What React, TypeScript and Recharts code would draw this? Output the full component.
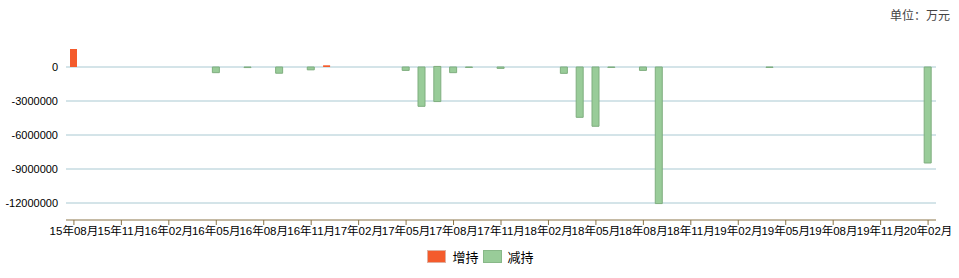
import React from "react"
import {
  BarChart,
  Bar,
  XAxis,
  YAxis,
  CartesianGrid,
  Legend,
} from "recharts"

// monthly categories, 15年08月 .. 20年02月
const months = [
  "15年08月", "15年09月", "15年10月", "15年11月", "15年12月",
  "16年01月", "16年02月", "16年03月", "16年04月", "16年05月", "16年06月",
  "16年07月", "16年08月", "16年09月", "16年10月", "16年11月", "16年12月",
  "17年01月", "17年02月", "17年03月", "17年04月", "17年05月", "17年06月",
  "17年07月", "17年08月", "17年09月", "17年10月", "17年11月", "17年12月",
  "18年01月", "18年02月", "18年03月", "18年04月", "18年05月", "18年06月",
  "18年07月", "18年08月", "18年09月", "18年10月", "18年11月", "18年12月",
  "19年01月", "19年02月", "19年03月", "19年04月", "19年05月", "19年06月",
  "19年07月", "19年08月", "19年09月", "19年10月", "19年11月", "19年12月",
  "20年01月", "20年02月",
]

// 增持 (万元)
const increase = [
  1590000, 0, 0, 0, 0,
  0, 0, 0, 0, 0, 0,
  0, 0, 0, 0, 0, 150000,
  0, 0, 0, 0, 0, 0,
  50000, 0, 0, 0, 0, 0,
  0, 0, 0, 0, 0, 0,
  0, 0, 0, 0, 0, 0,
  0, 0, 0, 0, 0, 0,
  0, 0, 0, 0, 0, 0,
  0, 0,
]

// 减持 (万元)
const decrease = [
  0, 0, 0, 0, 0,
  0, 0, 0, 0, -500000, 0,
  -50000, 0, -550000, 0, -250000, 0,
  0, 0, 0, 0, -300000, -3470000,
  -3100000, -500000, -40000, 0, -120000, 0,
  0, 0, -560000, -4440000, -5230000, -40000,
  0, -300000, -12050000, 0, 0, 0,
  0, 0, 0, -40000, 0, 0,
  0, 0, 0, 0, 0, 0,
  0, -8470000,
]

const yTicks = [-12000000, -9000000, -6000000, -3000000, 0]

const data = months.map((m, i) => ({
  name: m,
  inc: increase[i],
  dec: decrease[i],
}))

const RED = "#f45b2c"
const GREEN = "#99cc99"
const FONT = "'Liberation Sans', 'Noto Sans CJK SC', sans-serif"

function LegendBox() {
  const item = (color: string, border: string, label: string) => (
    <span style={{ display: "inline-flex", alignItems: "center", marginRight: 4 }}>
      <span
        style={{
          display: "inline-block",
          width: 17,
          height: 11,
          background: color,
          border: `1px solid ${border}`,
          marginRight: 6,
        }}
      />
      <span style={{ fontSize: 13, color: "#000" }}>{label}</span>
    </span>
  )
  return (
    <div style={{ display: "flex", justifyContent: "center", fontFamily: FONT, paddingLeft: 6 }}>
      {item(RED, "#e0b0a0", "增持")}
      {item(GREEN, "#88b888", "减持")}
    </div>
  )
}

export default function App() {
  return (
    <div style={{ position: "absolute", left: 0, top: 0, width: 959, height: 278, background: "#fff" }}>
      <div
        style={{
          position: "absolute",
          right: 9,
          top: 6,
          fontSize: 12,
          color: "#444",
          fontFamily: "'Noto Sans CJK SC', sans-serif",
        }}
      >
        单位：万元
      </div>
      <BarChart
        width={959}
        height={278}
        data={data}
        margin={{ top: 33, right: 23, bottom: 28, left: 0 }}
        barSize={7}
      >
        <CartesianGrid
          horizontal
          vertical={false}
          stroke="#a9c9d2"
          horizontalValues={yTicks}
        />
        <XAxis
          dataKey="name"
          interval={2}
          height={30}
          tickSize={5}
          axisLine={{ stroke: "#8a7448" }}
          tickLine={{ stroke: "#8a7448" }}
          tick={{ fontSize: 11.5, fill: "#000", fontFamily: FONT }}
        />
        <YAxis
          width={66}
          domain={[-13500000, 3000000]}
          ticks={yTicks}
          axisLine={false}
          tickLine={false}
          tick={{ fontSize: 11, fill: "#000", fontFamily: FONT }}
        />
        <Legend
          layout="horizontal"
          verticalAlign="middle"
          align="center"
          wrapperStyle={{ top: 247, left: 0, width: 959 }}
          content={() => <LegendBox />}
        />
        <Bar dataKey="inc" name="增持" stackId="a" fill={RED} isAnimationActive={false} />
        <Bar
          dataKey="dec"
          name="减持"
          stackId="a"
          fill={GREEN}
          stroke="#7fae7f"
          strokeWidth={1}
          isAnimationActive={false}
        />
      </BarChart>
    </div>
  )
}
